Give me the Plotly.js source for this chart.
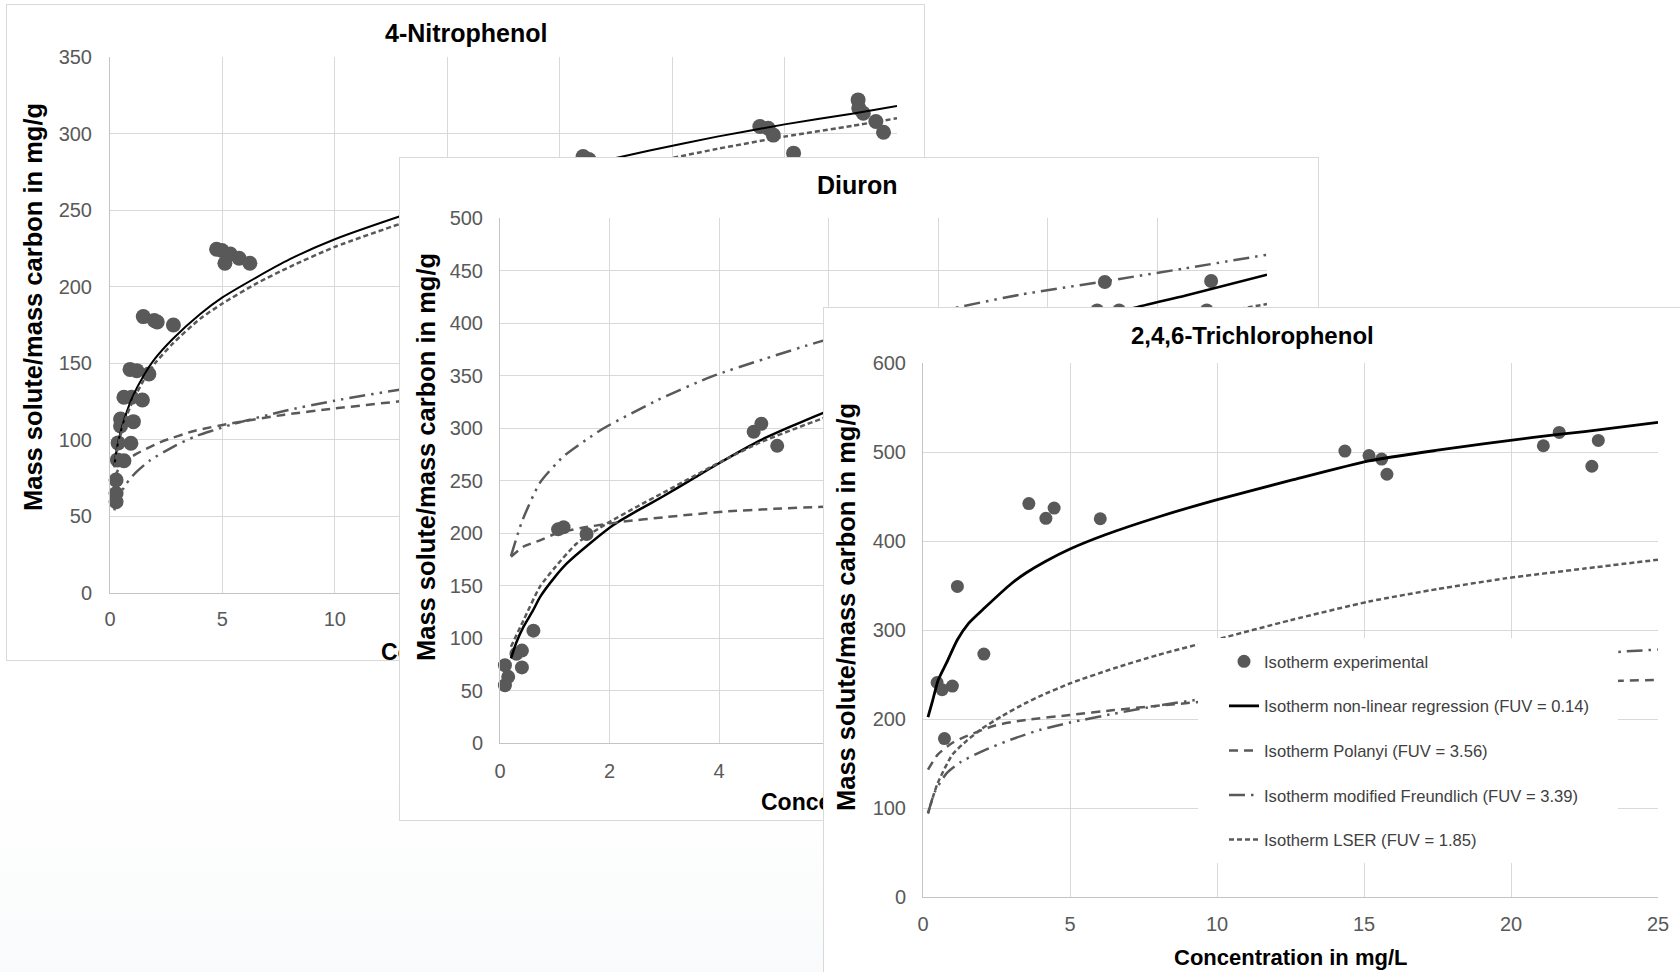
<!DOCTYPE html>
<html><head><meta charset="utf-8">
<script src="https://cdn.plot.ly/plotly-3.0.1.min.js"></script>
<style>
html,body{margin:0;padding:0;width:1680px;height:972px;overflow:hidden;}
body{background:linear-gradient(to bottom,#ffffff 0px,#ffffff 780px,#f9fafb 972px);}
.panel{position:absolute;background:#fff;border:1px solid #d9d9d9;box-sizing:border-box;}
</style></head><body>
<div id="w1" class="panel"><div id="p1"></div></div>
<div id="w2" class="panel"><div id="p2"></div></div>
<div id="w3" class="panel"><div id="p3"></div></div>
<script>
// ---------------- DATA ----------------
// 4-Nitrophenol
const np_exp_x = [0.27,0.27,0.27,0.33,0.62,0.36,0.93,0.47,0.47,1.04,0.62,0.96,1.44,0.89,1.19,1.73,1.48,1.97,2.1,2.82,4.74,4.98,5.11,5.35,5.74,6.22,21.04,21.3,28.9,29.27,29.5,30.4,33.27,33.3,33.5,34.06,34.4];
const np_exp_y = [59.6,65,73.8,86.9,86.4,98,97.8,113.6,109,111.9,127.8,127.8,126,146,145.2,143,180.5,177.9,177,175,224.5,223.6,215.3,221.4,218.6,215.3,285,283,304.6,303.5,299,287.2,322,316.6,313.3,307.9,300.9];
const np_reg_x = [0.19,0.3,0.45,0.67,1,1.5,2,2.8,4,5,6.5,8,10,12.9,15,18,21,24,27,30,33,35];
const np_reg_y = [83,94,104,115,128,142,153,166,182,193,206,218,231,246,256,268,279,289,298,306,313,318];
const np_pol_x = [0.19,0.5,1.19,2.3,3.78,5.48,7.7,10,12.8,15,18,21,24,27,30,33,35];
const np_pol_y = [75,84,91,98.8,106,111,116.3,120.5,125,128,131,134,137,139,141,143,144];
const np_fre_x = [0.19,0.3,0.5,0.74,1.08,1.78,2.89,3.78,4.6,5.48,7.7,10,12.8,15,18,21,24,27,30,33,35];
const np_fre_y = [54,59,65.8,71.6,77.7,86.6,96.1,102.2,106.2,110.3,118.7,125.6,132.6,137,143,148,153,157,161,164,166];
const np_lser_x = [0.19,0.3,0.45,0.67,1,1.5,2,2.8,4,5,6.5,8,10,12.9,15,18,21,24,27,30,33,35];
const np_lser_y = [82,92,102,113,125,139,150,163,179,189,202,213,226,241,250,262,272,281,290,298,305,310];

// Diuron
const di_exp_x = [0.09,0.15,0.09,0.40,0.30,0.40,0.61,1.06,1.16,1.58,4.63,4.77,5.06,10.9,11.04,11.3,12.9,12.98];
const di_exp_y = [55,63,74,72,85,88,107,203.5,205.5,199,296.5,304,283,412,439,412,412,440];
const di_reg_x = [0.2,0.3,0.43,0.6,0.73,1,1.22,1.64,2.07,2.5,2.98,3.5,3.95,4.74,5.88,7,8,9,10,11,11.55,12.5,14];
const di_reg_y = [80.6,96,110.8,126,139,158,171,190,207.6,221,235,251,265,288,314,335,352,369,386,404,414,426,446];
const di_pol_x = [0.2,0.43,0.73,1.03,1.5,2.25,3,4.07,5,5.9,7,8,9,10,11,12,13,14];
const di_pol_y = [177.4,187,193,199.7,205,210.8,215,220.3,223,225,227.5,229.5,231,233,234.5,236,237,238.5];
const di_fre_x = [0.2,0.4,0.73,1.16,1.58,1.9,2.88,3.86,4.84,5.82,7,8.27,9.5,10.95,12.5,14];
const di_fre_y = [178,210.8,248,273,289,300,326.7,349,366,382,398,414,427,439,452,465];
const di_lser_x = [0.2,0.43,0.73,1,1.4,1.95,2.5,3,3.5,4,4.74,5.88,7,8,9,10,11,12,13,14];
const di_lser_y = [91.7,117,149,167,190,209,225,239,253,267,286,309,328,345,360,374,387,399,409,418];

// 2,4,6-Trichlorophenol
const tcp_exp_x = [0.48,0.65,1.0,0.73,1.17,2.07,3.6,4.18,4.46,6.03,14.35,15.17,15.6,15.78,21.1,21.64,22.75,22.97];
const tcp_exp_y = [241,233,237,178,349,273,442,425.5,437,425,501,496,492,475,507,522,484,513];
const tcp_reg_x = [0.17,0.33,0.52,0.8,1.17,1.55,2.1,3,3.5,4.16,5,6.2,8,9.95,12.5,15.17,17.5,20.76,22.5,25];
const tcp_reg_y = [202,221,244,263,289,307.5,325,352,364,377,391,407,427,446,468,490,502,516.5,523,533.4];
const tcp_pol_x = [0.17,0.5,0.99,1.5,2.48,3.5,5,6.5,7.7,9.38,12,15,18,21,23.75,25];
const tcp_pol_y = [143,160,173,181,193,199,204.5,210,214,219,225,231,236,240,243,244];
const tcp_fre_x = [0.17,0.4,0.8,1.3,2.1,3,4,5,6.5,8,9.38,12,15,18,21,23.75,25];
const tcp_fre_y = [94,118,139,152,165,177,188,196,206,215,222,236,249,259,268,275.6,278];
const tcp_lser_x = [0.17,0.5,1.0,1.5,2.0,2.67,3.5,4,5,6.5,8,9.95,12.5,15.17,17.5,19.8,22.5,25];
const tcp_lser_y = [94,128,160,176,189,203,218,226,240,257,272,289,311,332,346,358,369,379];

const titles = ['4-Nitrophenol','Diuron','2,4,6-Trichlorophenol'];
const seriesNames = ['Isotherm experimental','Isotherm non-linear regression (FUV = 0.14)','Isotherm Polanyi (FUV = 3.56)','Isotherm modified Freundlich (FUV = 3.39)','Isotherm LSER (FUV = 1.85)'];
const xTitle = 'Concentration in mg/L';
const yTitle = 'Mass solute/mass carbon in mg/g';

// ---------------- LAYOUT / STYLE ----------------
const FONT = '"Liberation Sans", Arial, Helvetica, sans-serif';
const GREY = '#595959';
const panels = [
  {id:'p1', w:'w1', L:6,   T:4,   W:919, H:657, ml:103, mr:27, mt:52, mb:67,
   xr:[0,35], xd:5, yr:[0,350], yd:50, ms:15, regW:2, tsize:25, xtsize:23,
   title:[466,33], ytitle:[33,307], xtitle:[503,652], ticklenX:8, ticklenY:13},
  {id:'p2', w:'w2', L:399, T:157, W:920, H:664, ml:100, mr:51, mt:60, mb:77,
   xr:[0,14], xd:2, yr:[0,500], yd:50, ms:14, regW:2.5, tsize:25, xtsize:23,
   title:[857,185], ytitle:[426,457], xtitle:[883,802], ticklenX:10, ticklenY:12},
  {id:'p3', w:'w3', L:823, T:307, W:858, H:720, ml:99, mr:22, mt:55, mb:129,
   xr:[0,25], xd:5, yr:[0,600], yd:100, ms:13, regW:2.8, tsize:24, xtsize:22,
   title:[1252,336], ytitle:[846,607], xtitle:[1290,957], ticklenX:9, ticklenY:12}
];
const data = [
  [np_exp_x,np_exp_y,np_reg_x,np_reg_y,np_pol_x,np_pol_y,np_fre_x,np_fre_y,np_lser_x,np_lser_y],
  [di_exp_x,di_exp_y,di_reg_x,di_reg_y,di_pol_x,di_pol_y,di_fre_x,di_fre_y,di_lser_x,di_lser_y],
  [tcp_exp_x,tcp_exp_y,tcp_reg_x,tcp_reg_y,tcp_pol_x,tcp_pol_y,tcp_fre_x,tcp_fre_y,tcp_lser_x,tcp_lser_y]
];

function px(c,X){const x0=c.L+1+c.ml, w=c.W-2-c.ml-c.mr; return (X-x0)/w;}
function py(c,Y){const y0=c.T+1+c.mt, h=c.H-2-c.mt-c.mb; return 1-(Y-y0)/h;}

panels.forEach((c,i)=>{
  const wrap=document.getElementById(c.w);
  wrap.style.left=c.L+'px'; wrap.style.top=c.T+'px';
  wrap.style.width=c.W+'px'; wrap.style.height=c.H+'px';
  const d=data[i];
  const leg = (i===2);
  const traces=[
    {x:d[0],y:d[1],mode:'markers',type:'scatter',name:seriesNames[0],cliponaxis:false,
     marker:{color:GREY,size:c.ms,line:{width:0}},legendgroup:'a',showlegend:leg},
    {x:d[2],y:d[3],mode:'lines',type:'scatter',name:seriesNames[1],line:{color:'#000',width:c.regW,shape:'spline',smoothing:0.6},legendgroup:'b',showlegend:leg},
    {x:d[4],y:d[5],mode:'lines',type:'scatter',name:seriesNames[2],line:{color:GREY,width:2.5,dash:'9px,6px',shape:'spline',smoothing:0.6},legendgroup:'c',showlegend:leg},
    {x:d[6],y:d[7],mode:'lines',type:'scatter',name:seriesNames[3],line:{color:GREY,width:2.5,dash:'16px,6px,2.5px,6px,2.5px,6px',shape:'spline',smoothing:0.6},legendgroup:'d',showlegend:leg},
    {x:d[8],y:d[9],mode:'lines',type:'scatter',name:seriesNames[4],line:{color:GREY,width:2.5,dash:'5px,3px',shape:'spline',smoothing:0.6},legendgroup:'e',showlegend:leg}
  ];
  const ann=[
    {text:'<b>'+titles[i]+'</b>',x:px(c,c.title[0]),y:py(c,c.title[1]),font:{size:c.tsize,color:'#000',family:FONT}},
    {text:'<b>'+yTitle+'</b>',x:px(c,c.ytitle[0]),y:py(c,c.ytitle[1]),textangle:-90,font:{size:25.5,color:'#000',family:FONT}},
    {text:'<b>'+xTitle+'</b>',x:px(c,c.xtitle[0]),y:py(c,c.xtitle[1]),font:{size:c.xtsize,color:'#000',family:FONT}}
  ].map(a=>Object.assign({xref:'paper',yref:'paper',showarrow:false,xanchor:'center',yanchor:'middle'},a));
  const ax=(r,dt,tl)=>({range:r,dtick:dt,tick0:0,autorange:false,showgrid:true,gridcolor:'#d9d9d9',gridwidth:1,
    zeroline:false,showline:true,linecolor:'#c4c4c4',linewidth:1,ticks:'outside',ticklen:tl,
    tickcolor:'rgba(0,0,0,0)',tickfont:{size:20,color:GREY,family:FONT},fixedrange:true});
  const layout={
    width:c.W-2,height:c.H-2,margin:{l:c.ml,r:c.mr,t:c.mt,b:c.mb,pad:0},
    paper_bgcolor:'#fff',plot_bgcolor:'#fff',font:{family:FONT,color:GREY},
    xaxis:ax(c.xr,c.xd,c.ticklenX), yaxis:ax(c.yr,c.yd,c.ticklenY),
    showlegend:leg, annotations:ann, shapes:[]
  };
  if(leg){
    layout.shapes.push({type:'rect',xref:'paper',yref:'paper',layer:'above',
      x0:px(c,1198),x1:px(c,1618),y0:py(c,638),y1:py(c,863),fillcolor:'#fff',line:{width:0}});
    layout.legend={x:px(c,1224),xanchor:'left',y:py(c,644),yanchor:'top',bgcolor:'rgba(0,0,0,0)',
      borderwidth:0,font:{size:16.6,color:'#404040',family:FONT},tracegroupgap:20,traceorder:'grouped',itemwidth:30};
  }
  Plotly.newPlot(c.id,traces,layout,{staticPlot:true,displayModeBar:false});
});
</script>
</body></html>
